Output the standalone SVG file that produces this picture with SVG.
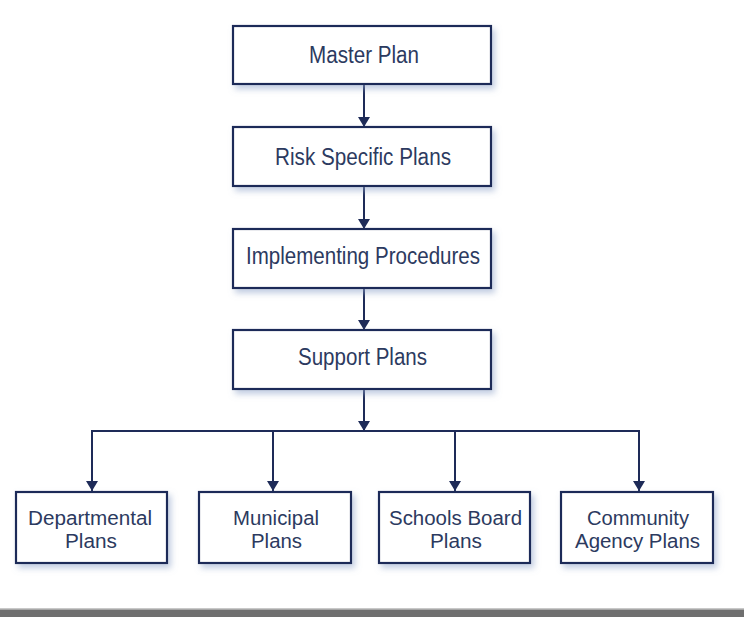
<svg xmlns="http://www.w3.org/2000/svg" width="744" height="617" viewBox="0 0 744 617">
<defs>
<filter id="sh" x="-10%" y="-10%" width="130%" height="140%">
<feDropShadow dx="3" dy="4" stdDeviation="3" flood-color="#8fa3c8" flood-opacity="0.55"/>
</filter>
<marker id="ah" viewBox="0 0 10 12" refX="10" refY="6" markerWidth="10" markerHeight="12" markerUnits="userSpaceOnUse" orient="auto">
<path d="M0,0 L10,6 L0,12 Z" fill="#1e2b58"/>
</marker>
<style>
.box{fill:#ffffff;stroke:#1e2b58;stroke-width:2.2;filter:url(#sh)}
.t{font-family:"Liberation Sans",Arial,sans-serif;font-size:23px;fill:#2c3a60;text-anchor:middle}
.s{font-size:20px}
.c{fill:none;stroke:#1e2b58;stroke-width:2}
</style>
</defs>
<rect x="0" y="0" width="744" height="617" fill="#ffffff"/>
<g id="connectors">
<line class="c" x1="364" y1="85" x2="364" y2="127" marker-end="url(#ah)"/>
<line class="c" x1="364" y1="187" x2="364" y2="229" marker-end="url(#ah)"/>
<line class="c" x1="364" y1="289" x2="364" y2="330" marker-end="url(#ah)"/>
<line class="c" x1="364" y1="390" x2="364" y2="431" marker-end="url(#ah)"/>
<polyline class="c" points="92,491 92,431 639,431 639,491" marker-end="url(#ah)"/>
<path class="c" d="M92,440 L92,491" marker-end="url(#ah)"/>
<line class="c" x1="273" y1="431" x2="273" y2="491" marker-end="url(#ah)"/>
<line class="c" x1="455" y1="431" x2="455" y2="491" marker-end="url(#ah)"/>
</g>
<g id="master"><rect class="box" x="233" y="26" width="258" height="58"/><text class="t" x="364" y="63" textLength="110" lengthAdjust="spacingAndGlyphs">Master Plan</text></g>
<g id="risk"><rect class="box" x="233" y="127" width="258" height="59"/><text class="t" x="363" y="165" textLength="176" lengthAdjust="spacingAndGlyphs">Risk Specific Plans</text></g>
<g id="implementing"><rect class="box" x="233" y="229" width="258" height="59"/><text class="t" x="363" y="264" textLength="234" lengthAdjust="spacingAndGlyphs">Implementing Procedures</text></g>
<g id="support"><rect class="box" x="233" y="330" width="258" height="59"/><text class="t" x="362.5" y="365" textLength="129" lengthAdjust="spacingAndGlyphs">Support Plans</text></g>
<g id="departmental"><rect class="box" x="16" y="492" width="151" height="71"/><text class="t s" x="90" y="525" textLength="124" lengthAdjust="spacingAndGlyphs">Departmental</text><text class="t s" x="91" y="548" textLength="52" lengthAdjust="spacingAndGlyphs">Plans</text></g>
<g id="municipal"><rect class="box" x="199" y="492" width="152" height="71"/><text class="t s" x="276" y="525" textLength="86" lengthAdjust="spacingAndGlyphs">Municipal</text><text class="t s" x="276.5" y="548" textLength="51" lengthAdjust="spacingAndGlyphs">Plans</text></g>
<g id="schools"><rect class="box" x="379" y="492" width="151" height="71"/><text class="t s" x="455.5" y="525" textLength="133" lengthAdjust="spacingAndGlyphs">Schools Board</text><text class="t s" x="456" y="548" textLength="52" lengthAdjust="spacingAndGlyphs">Plans</text></g>
<g id="community"><rect class="box" x="561" y="492" width="152" height="71"/><text class="t s" x="638" y="525" textLength="102" lengthAdjust="spacingAndGlyphs">Community</text><text class="t s" x="637.5" y="548" textLength="125" lengthAdjust="spacingAndGlyphs">Agency Plans</text></g>
<rect x="0" y="608" width="744" height="1.5" fill="#c8c8c8"/>
<rect x="0" y="609.5" width="744" height="7.5" fill="#6f6f6f"/>
</svg>
